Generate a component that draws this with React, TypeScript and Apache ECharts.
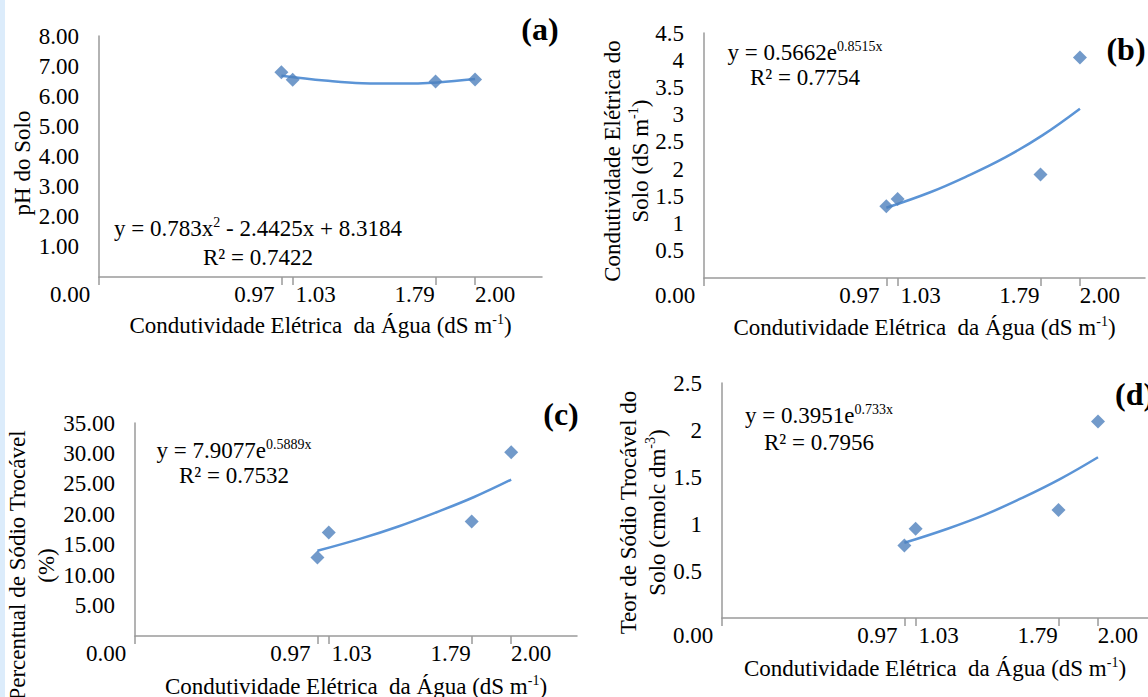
import React, { useEffect, useRef } from 'react';
import * as echarts from 'echarts';

const FONT = '"Liberation Serif", "Times New Roman", serif';

// x axis: water electrical conductivity (dS m-1)
const xTickValues = [0, 0.97, 1.03, 1.79, 2.0];
const xTickLabels = ['0.00', '0.97', '1.03', '1.79', '2.00'];
const waterEC = [0.97, 1.03, 1.79, 2.0];

// observed values
const soilPH = [6.8, 6.55, 6.49, 6.56];
const soilEC = [1.32, 1.45, 1.9, 4.05];
const soilPST = [12.9, 17.0, 18.8, 30.2];
const soilNa = [0.77, 0.95, 1.15, 2.09];

// trendline points
const trendX = [0.97, 1.2, 1.4, 1.6, 1.8, 2.0];
const soilPHTrend = [6.68, 6.52, 6.43, 6.42, 6.46, 6.57];
const soilECTrend = [1.29, 1.57, 1.87, 2.21, 2.62, 3.11];
const soilPSTTrend = [14.0, 16.0, 18.0, 20.3, 22.8, 25.7];
const soilNaTrend = [0.8, 0.95, 1.1, 1.28, 1.48, 1.71];

// y axes
const yMaxes = [8, 4.5, 35, 2.5];
const ySteps = [1, 0.5, 5, 0.5];
const yDecimals = [2, -1, 2, -1];

const panelLetters = ['(a)', '(b)', '(c)', '(d)'];
const yAxisTitles = [
  '{n|pH do Solo}',
  '{n|Condutividade Elétrica do}\n{n|Solo (dS m}{sup|-1}{n|)}',
  '{n|Percentual de Sódio Trocável}\n{n|(%)}',
  '{n|Teor de Sódio Trocável do}\n{n|Solo (cmolc dm}{sup|-3}{n|)}',
];
const xAxisTitle = '{n|Condutividade Elétrica  da Água (dS m}{sup|-1}{n|)}';
const equations = [
  '{n|y = 0.783x}{sup|2}{n| - 2.4425x + 8.3184}',
  '{n|y = 0.5662e}{sup|0.8515x}',
  '{n|y = 7.9077e}{sup|0.5889x}',
  '{n|y = 0.3951e}{sup|0.733x}',
];
const r2Texts = ['R² = 0.7422', 'R² = 0.7754', 'R² = 0.7532', 'R² = 0.7956'];

const observed = [soilPH, soilEC, soilPST, soilNa];
const trends = [soilPHTrend, soilECTrend, soilPSTTrend, soilNaTrend];

// layout (pixels)
const grids = [
  { left: 99, top: 36, width: 443, height: 241, xMax: 2.356 },
  { left: 704, top: 33, width: 441, height: 245, xMax: 2.346 },
  { left: 135, top: 423, width: 442, height: 213, xMax: 2.35 },
  { left: 722, top: 383, width: 426, height: 235, xMax: 2.266 },
];
const yNameGap = [64, 50, 74, 50];
const yNameShift = [13, 11, 72, 24];
const yNameLineHeight = [26, 28, 29, 29];
const xNameGap = [35, 36, 37, 37];
const eqPos = [
  { x: 258, y: 228, y2: 257 },
  { x: 805, y: 52, y2: 77 },
  { x: 234, y: 450, y2: 475 },
  { x: 819, y: 415, y2: 442 },
];
const letterPos = [
  { x: 540, y: 29, align: 'center' },
  { x: 1126, y: 49, align: 'center' },
  { x: 561, y: 414, align: 'center' },
  { x: 1115, y: 394, align: 'left' },
];
const xShift = [-29, -27, 23, -21, 20];

const AXIS_GRAY = '#9a9a9a';
const MARK_BLUE = '#4f81bd';
const TREND_BLUE = '#5b94d6';
const FS = 23;

const nameRich = {
  n: { fontFamily: FONT, fontSize: FS, color: '#000' },
  sup: { fontFamily: FONT, fontSize: 14, color: '#000', verticalAlign: 'top' },
};
const graphicRich = {
  n: { fontFamily: FONT, fontSize: FS, fill: '#000' },
  sup: { fontFamily: FONT, fontSize: 14, fill: '#000', verticalAlign: 'top' },
};

function buildOption() {
  const xRich: Record<string, any> = {};
  xShift.forEach((s, i) => {
    xRich['t' + i] = {
      fontFamily: FONT,
      fontSize: FS,
      color: '#000',
      padding: s < 0 ? [0, -2 * s, 0, 0] : [0, 0, 0, 2 * s],
    };
  });

  const grid = grids.map((g) => ({
    left: g.left,
    top: g.top,
    width: g.width,
    height: g.height,
    containLabel: false,
    outerBoundsMode: 'none',
  }));

  const xAxis = grids.map((g, i) => ({
    type: 'value',
    gridIndex: i,
    min: 0,
    max: g.xMax,
    splitLine: { show: false },
    axisLine: { show: true, onZero: false, lineStyle: { color: AXIS_GRAY, width: 1.5 } },
    axisTick: {
      show: true,
      customValues: xTickValues,
      length: 8,
      lineStyle: { color: AXIS_GRAY, width: 1.5 },
    },
    axisLabel: {
      customValues: xTickValues,
      margin: 6,
      fontFamily: FONT,
      fontSize: FS,
      color: '#000',
      hideOverlap: false,
      formatter: (v: number) => {
        const k = xTickValues.findIndex((t) => Math.abs(t - v) < 1e-6);
        return k < 0 ? '' : `{t${k}|${xTickLabels[k]}}`;
      },
      rich: xRich,
    },
    name: xAxisTitle,
    nameLocation: 'middle',
    nameGap: xNameGap[i],
    nameMoveOverlap: false,
    nameTextStyle: {
      fontFamily: FONT,
      fontSize: FS,
      color: '#000',
      lineHeight: 26,
      rich: nameRich,
    },
  }));

  const yAxis = yMaxes.map((mx, i) => ({
    type: 'value',
    gridIndex: i,
    min: 0,
    max: mx,
    interval: ySteps[i],
    splitLine: { show: false },
    axisLine: { show: true, onZero: false, lineStyle: { color: AXIS_GRAY, width: 1.5 } },
    axisTick: {
      show: true,
      customValues: [0],
      length: 8,
      lineStyle: { color: AXIS_GRAY, width: 1.5 },
    },
    axisLabel: {
      showMinLabel: false,
      margin: 20,
      fontFamily: FONT,
      fontSize: FS,
      color: '#000',
      formatter: (v: number) => (yDecimals[i] >= 0 ? v.toFixed(yDecimals[i]) : String(v)),
    },
    name: yAxisTitles[i],
    nameLocation: 'middle',
    nameRotate: 90,
    nameGap: yNameGap[i],
    nameMoveOverlap: false,
    nameTextStyle: {
      fontFamily: FONT,
      fontSize: FS,
      color: '#000',
      lineHeight: yNameLineHeight[i],
      padding: [0, yNameShift[i], 0, 0],
      rich: {
        n: { ...nameRich.n, lineHeight: yNameLineHeight[i] },
        sup: { ...nameRich.sup, lineHeight: yNameLineHeight[i] - 8 },
      },
    },
  }));

  const series: any[] = [];
  for (let i = 0; i < 4; i++) {
    series.push({
      type: 'line',
      xAxisIndex: i,
      yAxisIndex: i,
      smooth: 0.4,
      showSymbol: false,
      silent: true,
      z: 2,
      lineStyle: { color: TREND_BLUE, width: 2.5 },
      data: trendX.map((x, j) => [x, trends[i][j]]),
    });
    series.push({
      type: 'scatter',
      xAxisIndex: i,
      yAxisIndex: i,
      symbol: 'diamond',
      symbolSize: 14,
      z: 3,
      itemStyle: { color: MARK_BLUE },
      data: waterEC.map((x, j) => [x, observed[i][j]]),
    });
  }

  const graphic: any[] = [
    {
      type: 'rect',
      z: -10,
      shape: { x: 0, y: 0, width: 5, height: 697 },
      style: { fill: '#dcecfb' },
    },
  ];
  for (let i = 0; i < 4; i++) {
    graphic.push({
      type: 'text',
      x: eqPos[i].x,
      y: eqPos[i].y,
      style: {
        text: equations[i],
        fontFamily: FONT,
        fontSize: FS,
        lineHeight: 26,
        fill: '#000',
        align: 'center',
        verticalAlign: 'middle',
        rich: graphicRich,
      },
    });
    graphic.push({
      type: 'text',
      x: eqPos[i].x,
      y: eqPos[i].y2,
      style: {
        text: r2Texts[i],
        fontFamily: FONT,
        fontSize: FS,
        fill: '#000',
        align: 'center',
        verticalAlign: 'middle',
      },
    });
    graphic.push({
      type: 'text',
      x: letterPos[i].x,
      y: letterPos[i].y,
      style: {
        text: panelLetters[i],
        fontFamily: FONT,
        fontSize: 32,
        fontWeight: 'bold',
        fill: '#000',
        align: letterPos[i].align,
        verticalAlign: 'middle',
      },
    });
  }

  return {
    animation: false,
    backgroundColor: '#ffffff',
    grid,
    xAxis,
    yAxis,
    series,
    graphic,
  };
}

export default function App() {
  const ref = useRef<HTMLDivElement>(null);
  useEffect(() => {
    if (!ref.current) return;
    const chart = echarts.init(ref.current, null, { renderer: 'svg' });
    chart.setOption(buildOption() as any);
    return () => chart.dispose();
  }, []);
  return (
    <div
      ref={ref}
      style={{ position: 'absolute', left: 0, top: 0, width: 1148, height: 697, background: '#fff' }}
    />
  );
}
